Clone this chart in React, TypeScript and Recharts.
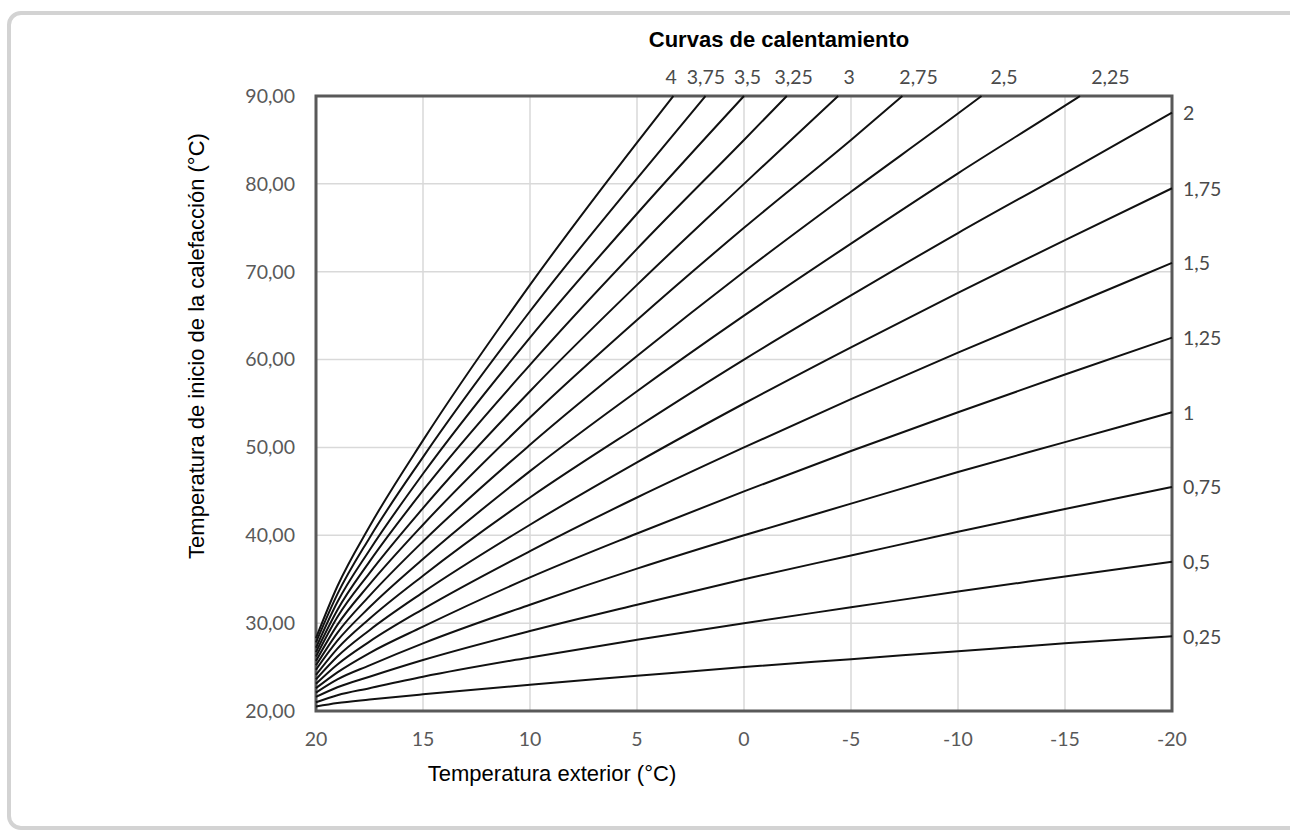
import { CartesianGrid, Line, LineChart, ReferenceArea, XAxis, YAxis } from "recharts";

// outdoor temperature steps (°C) the curves were read at
const outdoorTemps = [20, 19, 17.5, 15, 10, 5, 0, -5, -10, -15, -20];
const xTicks = [20, 15, 10, 5, 0, -5, -10, -15, -20];
const yTicks = [20, 30, 40, 50, 60, 70, 80, 90];

const curveNames = ["0,25", "0,5", "0,75", "1", "1,25", "1,5", "1,75", "2", "2,25", "2,5", "2,75", "3", "3,25", "3,5", "3,75", "4"];

// flow temperature per curve, read at the outdoor steps above
const curve025 = [20.5, 20.9, 21.3, 21.9, 23.0, 24.0, 25.0, 25.9, 26.8, 27.7, 28.5];
const curve050 = [21.0, 21.8, 22.6, 23.9, 26.1, 28.1, 30.0, 31.8, 33.6, 35.3, 37.0];
const curve075 = [21.6, 22.7, 23.9, 25.8, 29.1, 32.1, 35.0, 37.7, 40.4, 43.0, 45.5];
const curve100 = [22.1, 23.6, 25.2, 27.7, 32.1, 36.2, 40.0, 43.6, 47.2, 50.6, 54.0];
const curve125 = [22.6, 24.4, 26.6, 29.6, 35.2, 40.2, 45.0, 49.6, 54.0, 58.3, 62.5];
const curve150 = [23.1, 25.3, 27.9, 31.6, 38.2, 44.3, 50.0, 55.5, 60.8, 65.9, 71.0];
const curve175 = [23.6, 26.2, 29.2, 33.5, 41.2, 48.3, 55.0, 61.4, 67.6, 73.6, 79.5];
const curve200 = [24.1, 27.1, 30.5, 35.4, 44.3, 52.3, 60.0, 67.3, 74.4, 81.2, 88.1];
const curve225 = [24.7, 28.0, 31.8, 37.3, 47.3, 56.4, 65.0, 73.2, 81.2, 88.9];
const curve250 = [25.2, 28.9, 33.1, 39.3, 50.3, 60.4, 70.0, 79.1, 88.0];
const curve275 = [25.7, 29.8, 34.4, 41.2, 53.4, 64.5, 75.0, 85.0];
const curve300 = [26.2, 30.7, 35.7, 43.1, 56.4, 68.5, 80.0];
const curve325 = [26.7, 31.5, 37.0, 45.1, 59.4, 72.6, 85.0];
const curve350 = [27.2, 32.4, 38.3, 47.0, 62.5, 76.6, 90.0];
const curve375 = [27.8, 33.3, 39.7, 48.9, 65.5, 80.6];
const curve400 = [28.3, 34.2, 41.0, 50.8, 68.5, 84.7];

// outdoor temperature where a steep curve reaches 90 °C
const topExit = [null, null, null, null, null, null, null, null, -15.7, -11.1, -7.4, -4.4, -2.0, null, 1.8, 3.3];

const curves = [
  curve025, curve050, curve075, curve100, curve125, curve150, curve175, curve200,
  curve225, curve250, curve275, curve300, curve325, curve350, curve375, curve400,
];

const series = curves.map((vals, i) => {
  const pts = vals.map((y, j) => ({ x: outdoorTemps[j], y }));
  const exit = topExit[i];
  if (exit !== null) pts.push({ x: exit, y: 90 });
  return { name: curveNames[i], pts, top: pts[pts.length - 1].y >= 90 };
});

const tickStyle = { fontFamily: "Lato, 'Open Sans', sans-serif", fontSize: 19.5, fill: "#595959" };
const curveLabelStyle = { fontFamily: "Lato, 'Open Sans', sans-serif", fontSize: 19.5, fill: "#4a4a4a" };
const arial = "'Liberation Sans', Arial, sans-serif";

const fmtY = (v: number) => v.toFixed(2).replace(".", ",");

const endLabel = (name: string, count: number, top: boolean) => (p: any) => {
  if (p.index !== count - 1) return <g key={`d-${name}-${p.index}`} />;
  if (top) {
    // top labels drift a little to the right of where the curve meets the frame
    const dx = (p.cx - 700) * 0.08;
    return (
      <text key={`l-${name}`} x={p.cx + dx} y={p.cy - 12} textAnchor="middle" style={curveLabelStyle}>
        {name}
      </text>
    );
  }
  return (
    <text key={`l-${name}`} x={p.cx + 11} y={p.cy} dominantBaseline="central" style={curveLabelStyle}>
      {name}
    </text>
  );
};

export default function App() {
  return (
    <div style={{ position: "fixed", left: 0, top: 0, width: 1290, height: 830, overflow: "hidden", background: "#fff" }}>
      <div
        style={{
          position: "absolute",
          left: 7,
          top: 11,
          width: 1320,
          height: 819,
          boxSizing: "border-box",
          border: "4px solid #d3d3d3",
          borderRadius: 14,
        }}
      />
      <div style={{ position: "absolute", left: 0, top: 0 }}>
        <LineChart width={1290} height={830} margin={{ top: 96, right: 118, bottom: 89, left: 236 }}>
          <CartesianGrid stroke="#d9d9d9" strokeWidth={1.5} />
          <XAxis
            dataKey="x"
            type="number"
            domain={[-20, 20]}
            reversed
            ticks={xTicks}
            axisLine={false}
            tickLine={false}
            tickMargin={15}
            height={30}
            tick={tickStyle}
          />
          <YAxis
            type="number"
            domain={[20, 90]}
            ticks={yTicks}
            tickFormatter={fmtY}
            axisLine={false}
            tickLine={false}
            tickMargin={15}
            width={80}
            tick={tickStyle}
          />
          {series.map((s) => (
            <Line
              key={s.name}
              data={s.pts}
              dataKey="y"
              type="monotone"
              stroke="#111"
              strokeWidth={2}
              dot={endLabel(s.name, s.pts.length, s.top)}
              activeDot={false}
              isAnimationActive={false}
            />
          ))}
          <ReferenceArea x1={20} x2={-20} y1={20} y2={90} fill="none" fillOpacity={0} stroke="#595959" strokeWidth={3} />
        </LineChart>
      </div>
      <svg width={1290} height={830} style={{ position: "absolute", left: 0, top: 0, pointerEvents: "none" }}>
        <text x={779} y={47} textAnchor="middle" fontFamily={arial} fontWeight="bold" fontSize={22} fill="#000">
          Curvas de calentamiento
        </text>
        <text x={552} y={781} textAnchor="middle" fontFamily={arial} fontSize={22} fill="#000">
          Temperatura exterior (°C)
        </text>
        <text
          transform="translate(204, 346) rotate(-90)"
          textAnchor="middle"
          fontFamily={arial}
          fontSize={22}
          fill="#000"
        >
          Temperatura de inicio de la calefacción (°C)
        </text>
      </svg>
    </div>
  );
}
